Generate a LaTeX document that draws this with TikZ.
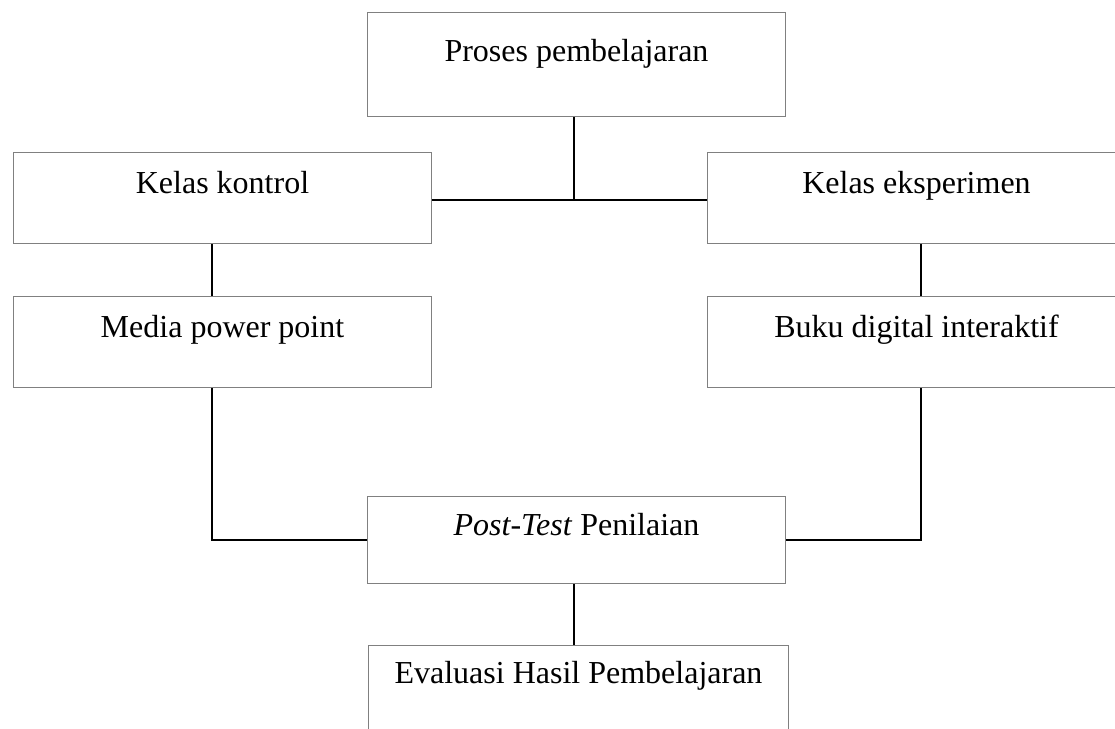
\documentclass[tikz,border=0pt]{standalone}
\usepackage{fontspec}
\setmainfont{Liberation Serif}
\tikzset{
  box/.style={
    draw=black!50, line width=0.5pt, fill=white,
    anchor=north west, inner xsep=0pt, inner ysep=0pt,
    minimum width=209pt, text height=20.5pt, text depth=25pt,
    font=\fontsize{16pt}{19pt}\selectfont
  },
  tallbox/.style={box, text height=24.5pt, text depth=27.5pt},
  shortbox/.style={box, text height=19.5pt, text depth=24pt},
  link/.style={draw=black, line width=1pt}
}
\begin{document}
\begin{tikzpicture}[x=0.5pt,y=-0.5pt]
  \useasboundingbox (0,0) rectangle (1115,729);
  \clip (0,0) rectangle (1115,729);

  \node[tallbox] (proses) at (367,12) {Proses pembelajaran};

  \node[box] (kontrol) at (13,152) {Kelas kontrol};
  \node[box] (eksperimen) at (707,152) {Kelas eksperimen};
  \node[box] (media) at (13,296) {Media power point};
  \node[box] (buku) at (707,296) {Buku digital interaktif};

  \node[shortbox] (post) at (367,496) {\textit{Post-Test} Penilaian};
  \node[box, minimum width=210pt, text height=19pt, text depth=45pt] (evaluasi) at (368,645) {Evaluasi Hasil Pembelajaran};

  \draw[link] ([yshift=-1pt]kontrol.east) -- ([yshift=-1pt]eksperimen.west);
  \draw[link] ([xshift=-1.5pt]proses.south) -- ([xshift=-1.5pt,yshift=-1pt]proses.south |- kontrol.east);
  \draw[link] ([xshift=-5.5pt]kontrol.south) -- ([xshift=-5.5pt]media.north);
  \draw[link] ([xshift=2pt]eksperimen.south) -- ([xshift=2pt]buku.north);
  \draw[link] ([xshift=-5.5pt]media.south) |- (post.west);
  \draw[link] ([xshift=2pt]buku.south) |- (post.east);
  \draw[link] ([xshift=-1.5pt]post.south) -- ([xshift=-1.5pt]post.south |- evaluasi.north);
\end{tikzpicture}
\end{document}
